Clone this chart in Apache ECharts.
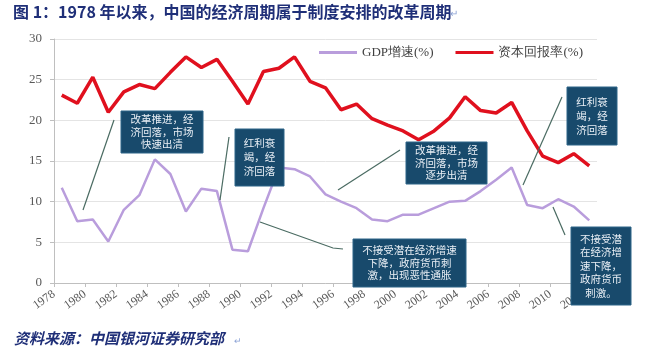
<!DOCTYPE html>
<html>
<head>
<meta charset="utf-8">
<script src="https://cdn.jsdelivr.net/npm/echarts@6/dist/echarts.min.js"></script>
<style>
html,body{margin:0;padding:0;background:#fff;}
#c{width:652px;height:354px;}
</style>
</head>
<body>
<div id="c"></div>
<script>
const years = [1978,1979,1980,1981,1982,1983,1984,1985,1986,1987,1988,1989,1990,1991,1992,1993,1994,1995,1996,1997,1998,1999,2000,2001,2002,2003,2004,2005,2006,2007,2008,2009,2010,2011,2012];
const gdpGrowth = [11.7,7.6,7.8,5.1,9.0,10.8,15.2,13.4,8.8,11.6,11.3,4.1,3.9,9.2,14.2,14.0,13.1,10.9,10.0,9.2,7.8,7.6,8.4,8.4,9.2,10.0,10.1,11.3,12.7,14.2,9.6,9.2,10.3,9.4,7.7];
const capitalReturn = [23.1,22.1,25.3,21.0,23.5,24.4,23.9,25.9,27.8,26.5,27.5,24.8,22.0,26.0,26.4,27.8,24.8,24.0,21.3,22.0,20.2,19.4,18.7,17.6,18.7,20.3,22.9,21.2,20.9,22.2,18.7,15.6,14.8,15.9,14.4];
const seriesNames = ['GDP增速(%)','资本回报率(%)'];
const yTicks = [0,5,10,15,20,25,30];

const chart = echarts.init(document.getElementById('c'));
const serif = '"Liberation Serif","DejaVu Serif",serif';
const cjk = '"Noto Sans CJK SC","Noto Sans",sans-serif';

function box(x,y,w,h,text,fs,lh){
  return {
    type:'group', z:100,
    children:[
      {type:'rect', shape:{x:x,y:y,width:w,height:h}, style:{fill:'#184a6c',stroke:'#2c6488',lineWidth:1}, z:100},
      {type:'text', x:x+w/2, y:y+h/2, z:101,
       style:{text:text, fill:'#e9eff5', font:'normal '+fs+'px '+cjk, lineHeight:lh, align:'center', verticalAlign:'middle'}}
    ]
  };
}
function leader(pts){
  return {type:'polyline', z:99, shape:{points:pts}, style:{stroke:'#4a6b62', lineWidth:1.2, fill:null}};
}

const option = {
  backgroundColor:'#ffffff',
  animation:false,
  grid:{left:54,right:55,top:39,bottom:71,containLabel:false},
  legend:{
    left:314, top:41, itemWidth:38, itemHeight:3, itemGap:22, icon:'rect',
    data:seriesNames,
    textStyle:{fontFamily:serif, fontSize:13, color:'#404040', padding:[0,0,0,0]}
  },
  xAxis:{
    type:'value', min:1977.5, max:2012.5, interval:2,
    axisLine:{show:true, lineStyle:{color:'#bfbfbf'}},
    axisTick:{show:true, length:4, lineStyle:{color:'#bfbfbf'}},
    splitLine:{show:false},
    axisLabel:{
      rotate:35, margin:10, fontFamily:serif, fontSize:12, color:'#595959',
      showMaxLabel:false,
      formatter:function(v){ const k=v+0.5; return (Math.abs((k-1978)%2)<1e-6 && k<=2012) ? String(k) : ''; }
    }
  },
  yAxis:{
    type:'value', min:yTicks[0], max:yTicks[yTicks.length-1], interval:5,
    axisLine:{show:true, lineStyle:{color:'#bfbfbf'}},
    axisTick:{show:true, length:4, lineStyle:{color:'#bfbfbf'}},
    splitLine:{show:true, lineStyle:{color:'#e4e4e4'}},
    axisLabel:{fontFamily:serif, fontSize:13, color:'#595959', margin:12}
  },
  series:[
    {name:seriesNames[0], type:'line', symbol:'none', z:3,
     data:years.map((y,i)=>[y,gdpGrowth[i]]),
     lineStyle:{color:'#b99ddc', width:2.5}, itemStyle:{color:'#b99ddc'}},
    {name:seriesNames[1], type:'line', symbol:'none', z:4,
     data:years.map((y,i)=>[y,capitalReturn[i]]),
     lineStyle:{color:'#e0101e', width:3.5}, itemStyle:{color:'#e0101e'}}
  ],
  graphic:[
    {type:'text', left:13, top:4, z:100, style:{text:'图 1：1978 年以来，中国的经济周期属于制度安排的改革周期', fill:'#1f2f78', font:'bold 16px '+cjk}},
    {type:'text', left:450, top:8, z:100, style:{text:'↵', fill:'#8ea4d6', font:'normal 10px '+cjk}},
    {type:'text', left:14, top:331, z:100, style:{text:'资料来源：中国银河证券研究部', fill:'#1f2f78', font:'italic bold 15px '+cjk}},
    {type:'text', left:234, top:336, z:100, style:{text:'↵', fill:'#8ea4d6', font:'normal 9px '+cjk}},
    leader([[83,210],[114,120]]),
    leader([[220,200],[229,137]]),
    leader([[260,222],[333,248],[343,249]]),
    leader([[338,190],[400,150]]),
    leader([[523,185],[562,97]]),
    leader([[553,207],[565,235]]),
    box(121,111,82,42,'改革推进，经\n济回落，市场\n快速出清',10.5,12.5),
    box(235,129,49,57,'红利衰\n竭，经\n济回落',10.5,14),
    box(406,142,81,42,'改革推进，经\n济回落，市场\n逐步出清',10.5,12.5),
    box(353,239,113,48,'不接受潜在经济增速\n下降，政府货币刺\n激，出现恶性通胀',10.5,12.5),
    box(567,87,50,58,'红利衰\n竭，经\n济回落',10.5,14),
    box(571,227,60,78,'不接受潜\n在经济增\n速下降，\n政府货币\n刺激。',10.5,13.5)
  ]
};
chart.setOption(option);
</script>
</body>
</html>
